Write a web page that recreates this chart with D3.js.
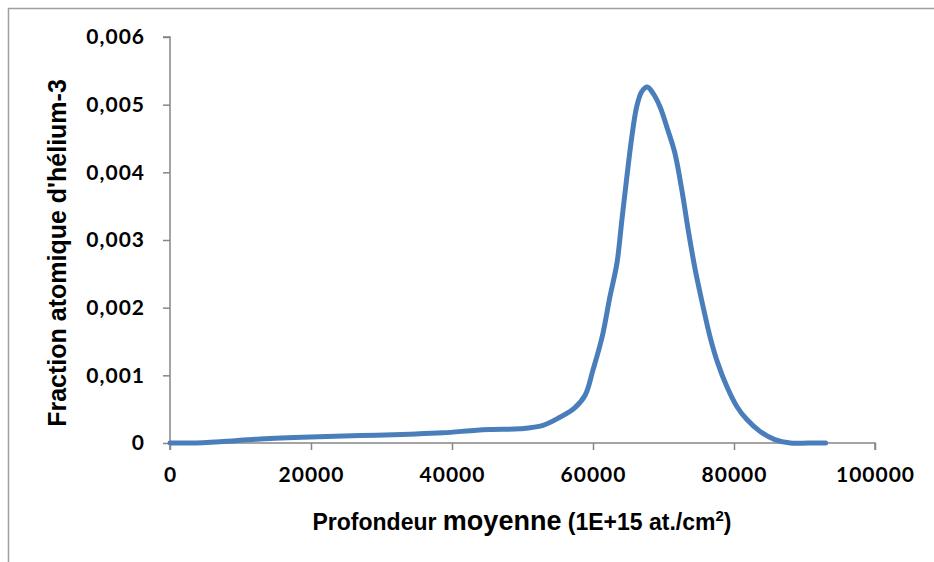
<!DOCTYPE html>
<html>
<head>
<meta charset="utf-8">
<script src="https://cdn.jsdelivr.net/npm/d3@7"></script>
<style>
	body { margin: 0; background: #fff; }
	svg { display: block; }
</style>
</head>
<body>
<div id="chart"></div>
<script>
// values
const depth = [0, 3000, 7100, 12800, 19900, 27000, 34000, 38700, 43500, 45800, 49600, 52900,
	55300, 57400, 58900, 60000, 61300, 62400, 63400, 64100, 64800, 65500, 66200, 66900,
	67700, 68500, 69500, 70600, 71600, 72600, 73500, 74500, 75500, 76600, 77700, 79000,
	80400, 81800, 83700, 85800, 88000, 90500, 93000];
const fraction = [0, 0, 0.00002, 0.00006, 0.00009, 0.00011, 0.00013, 0.00015, 0.00019, 0.0002, 0.00021, 0.00026,
	0.00038, 0.00052, 0.00071, 0.00108, 0.00157, 0.00216, 0.00266, 0.0033, 0.00393, 0.00452, 0.00497, 0.00519,
	0.00526, 0.00517, 0.00497, 0.00463, 0.00429, 0.00374, 0.00315, 0.00256, 0.00207, 0.00157, 0.00118, 0.00083,
	0.00054, 0.00035, 0.00017, 0.00005, 0, 0, 0];
const xTicks = [0, 20000, 40000, 60000, 80000, 100000];
const yTicks = [0, 0.001, 0.002, 0.003, 0.004, 0.005, 0.006];

const width = 934, height = 562;
const margin = { left: 170, top: 37, right: 59, bottom: 119 };

const svg = d3.select("#chart").append("svg")
	.attr("width", width)
	.attr("height", height);

// chart area border (right and bottom edges fall outside the picture)
svg.append("rect")
	.attr("x", 8.5).attr("y", 8.5)
	.attr("width", 960).attr("height", 600)
	.attr("fill", "none")
	.attr("stroke", "#a0a0a0")
	.attr("stroke-width", 1.5);

const x = d3.scaleLinear().domain([0, 100000]).range([margin.left, width - margin.right]);
const y = d3.scaleLinear().domain([0, 0.006]).range([height - margin.bottom, margin.top]);

const fmtY = d => d === 0 ? "0" : d3.format(".3f")(d).replace(".", ",");

const xAxis = svg.append("g")
	.attr("transform", `translate(0,${y(0)})`)
	.call(d3.axisBottom(x).tickValues(xTicks).tickFormat(d3.format("d")).tickSize(7).tickPadding(17));

const yAxis = svg.append("g")
	.attr("transform", `translate(${x(0)},0)`)
	.call(d3.axisLeft(y).tickValues(yTicks).tickFormat(fmtY).tickSize(7).tickPadding(18));

[xAxis, yAxis].forEach(g => {
	g.select(".domain").attr("stroke", "#868686").attr("stroke-width", 1.5);
	g.selectAll(".tick line").attr("stroke", "#868686").attr("stroke-width", 1.5);
	g.selectAll(".tick text")
		.attr("fill", "#000")
		.style("font-family", "Lato, 'Open Sans', sans-serif")
		.style("font-weight", "bold")
		.style("font-size", "21px")
		.style("letter-spacing", "1px");
});
xAxis.select(".domain").attr("d", `M${x(0)},7V0H${x(100000)}V7`);
yAxis.select(".domain").attr("d", `M-7,${y(0.006)}H0V${y(0)}`);

// the profile curve
const line = d3.line()
	.x((d, i) => x(depth[i]))
	.y(d => y(d))
	.curve(d3.curveCatmullRom.alpha(0.5));

svg.append("path")
	.datum(fraction)
	.attr("fill", "none")
	.attr("stroke", "#4a7ebb")
	.attr("stroke-width", 5)
	.attr("stroke-linejoin", "round")
	.attr("stroke-linecap", "round")
	.attr("d", line);

// axis titles
const xTitle = svg.append("text")
	.attr("x", 522)
	.attr("y", 530)
	.attr("text-anchor", "middle")
	.style("font-family", "'Liberation Sans', Arial, sans-serif")
	.style("font-weight", "bold")
	.style("font-size", "23px");
xTitle.append("tspan").text("Profondeur ");
xTitle.append("tspan").style("font-size", "27px").text("moyenne");
xTitle.append("tspan").text(" (1E+15 at./cm");
xTitle.append("tspan").style("font-size", "15px").attr("dy", -9).text("2");
xTitle.append("tspan").attr("dy", 9).text(")");

svg.append("text")
	.attr("transform", `translate(66,253) rotate(-90)`)
	.attr("text-anchor", "middle")
	.style("font-family", "'Liberation Sans', Arial, sans-serif")
	.style("font-weight", "bold")
	.style("font-size", "25px")
	.text("Fraction atomique d'hélium-3");
</script>
</body>
</html>
